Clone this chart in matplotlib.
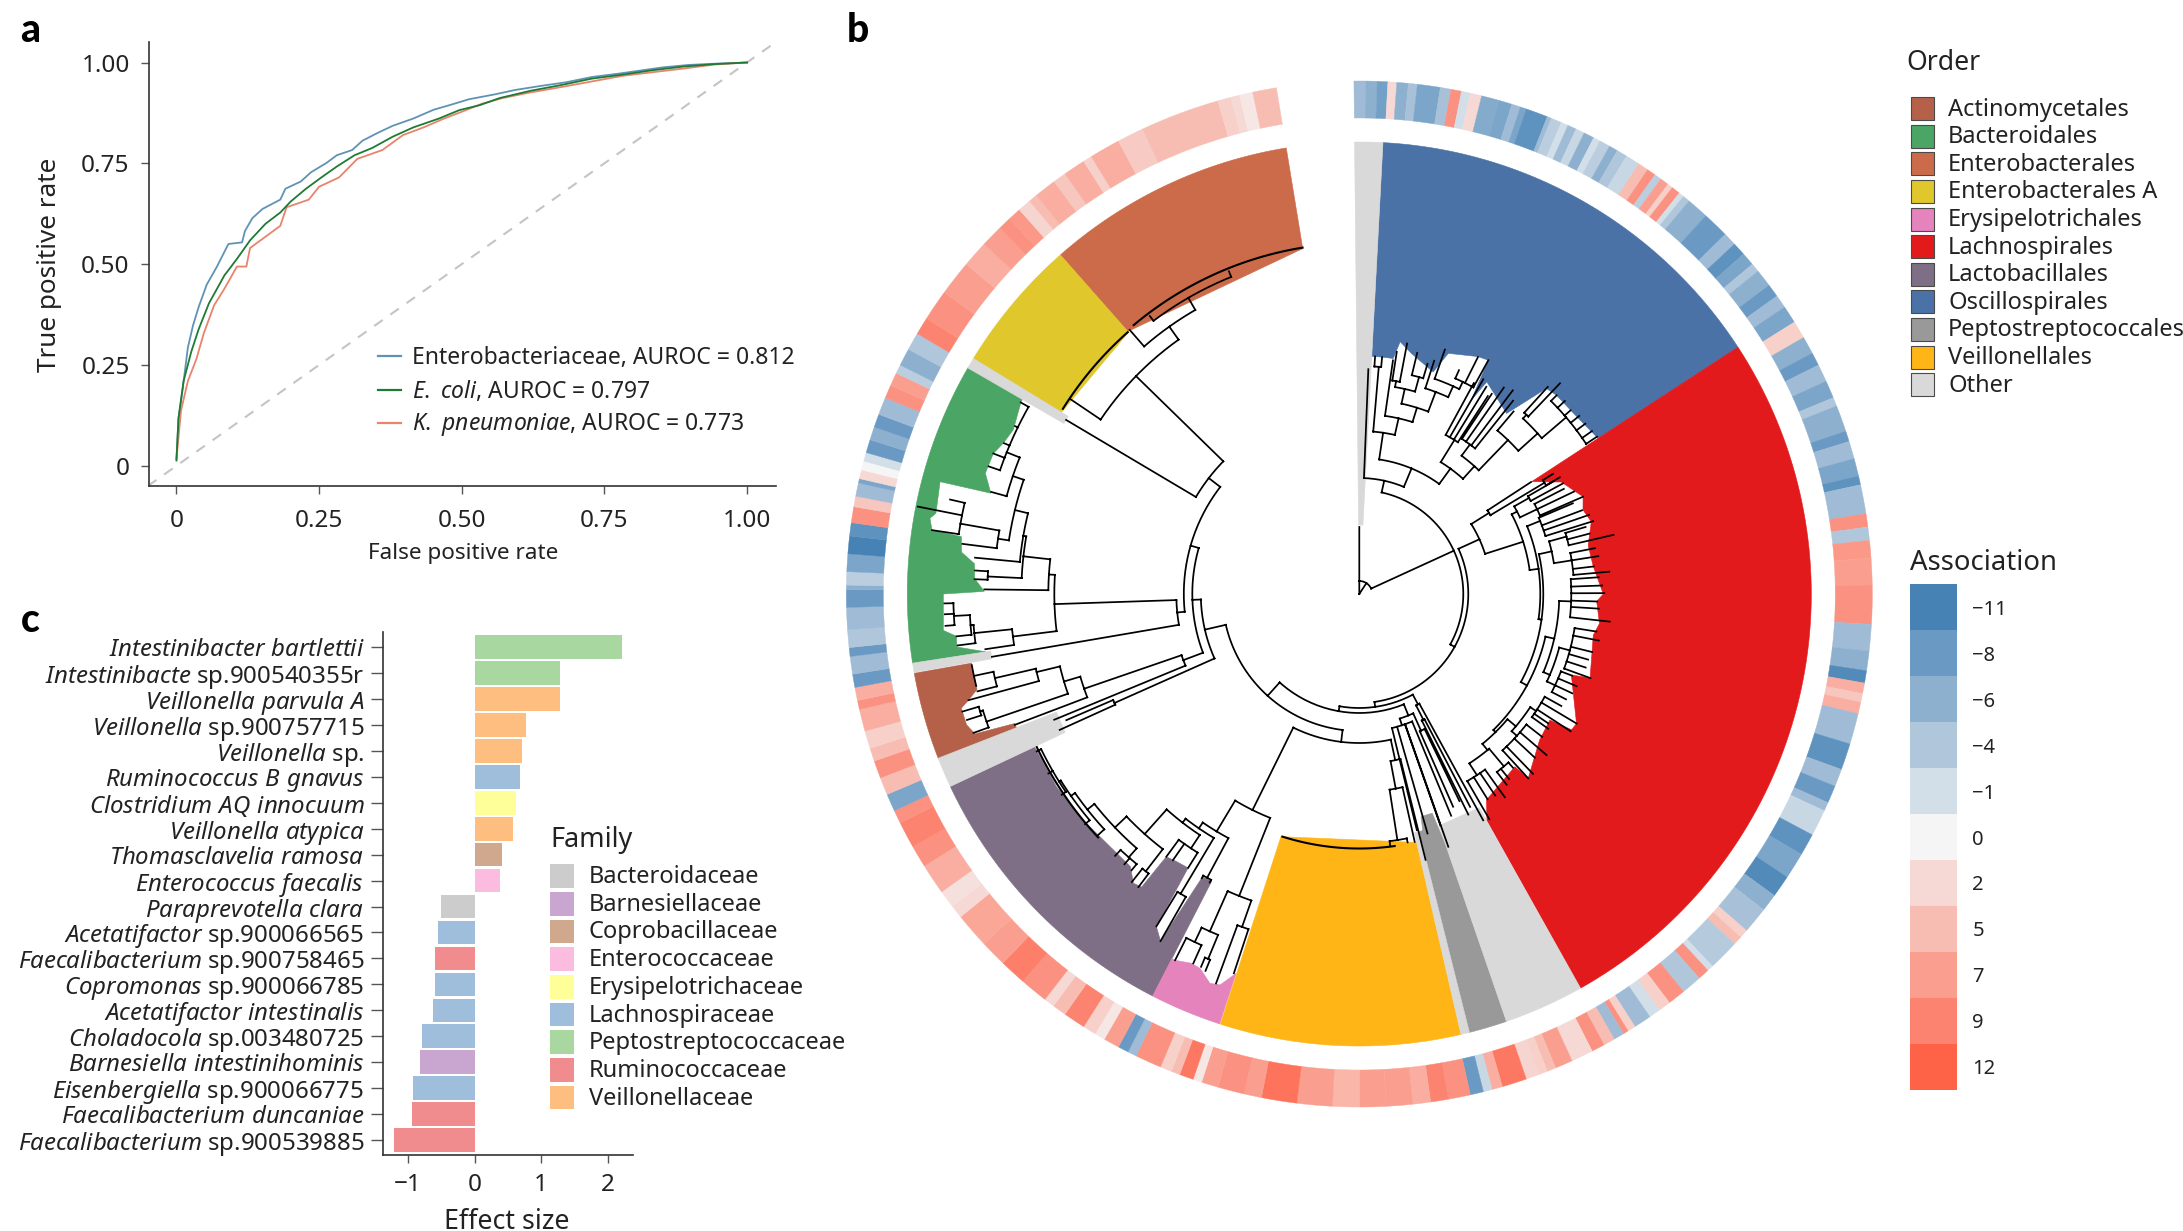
import numpy as np
import matplotlib
matplotlib.use("Agg")
import matplotlib.pyplot as plt
from matplotlib.patches import Rectangle
from matplotlib.colors import to_rgb

plt.rcParams['font.family'] = ['Noto Sans', 'DejaVu Sans']
plt.rcParams['mathtext.fontset'] = 'custom'
plt.rcParams['mathtext.rm'] = 'Noto Sans'
plt.rcParams['mathtext.it'] = 'Noto Sans:italic'
plt.rcParams['mathtext.bf'] = 'Noto Sans:bold'

W, H = 2183, 1231
TXT = '#222222'

# ---------- panel a ----------
entero_fpr = [0,.0036,.011,.02,.029,.039,.053,.071,.091,.115,.12,.133,.151,.182,.191,.218,.236,.263,.281,.308,.326,.352,.379,.415,.451,.478,.513,.558,.594,.639,.683,.728,.773,.818,.853,.898,.943,1]
entero_tpr = [.017,.118,.192,.293,.348,.394,.449,.494,.55,.554,.582,.614,.637,.66,.687,.705,.728,.751,.77,.783,.806,.825,.843,.861,.883,.894,.909,.921,.932,.942,.951,.964,.972,.981,.988,.994,.997,1]
ecoli_fpr = [0,.0036,.0125,.026,.039,.057,.084,.106,.129,.156,.182,.2,.227,.254,.281,.312,.343,.379,.415,.46,.496,.531,.567,.621,.674,.728,.782,.835,.889,.943,1]
ecoli_tpr = [.013,.118,.21,.283,.339,.403,.472,.513,.559,.6,.628,.655,.687,.715,.742,.77,.788,.816,.839,.861,.882,.894,.912,.93,.944,.96,.97,.981,.99,.996,1]
kp_fpr = [0,.008,.02,.035,.048,.066,.084,.106,.1225,.129,.156,.182,.193,.232,.25,.285,.317,.361,.397,.433,.469,.504,.536,.572,.621,.674,.728,.782,.835,.889,.943,1]
kp_tpr = [.017,.137,.21,.265,.329,.398,.439,.494,.494,.54,.568,.595,.641,.66,.692,.715,.761,.783,.82,.839,.861,.88,.898,.912,.926,.939,.953,.967,.976,.985,.995,1]
roc_labels = ['Enterobacteriaceae, AUROC = 0.812', r'$\mathit{E.\ coli}$, AUROC = 0.797', r'$\mathit{K.\ pneumoniae}$, AUROC = 0.773']
roc_colors = ['#5F93B5', '#1E7B34', '#E8836C']
roc_ticks = [0, .25, .5, .75, 1]
roc_ticklabels = ['0', '0.25', '0.50', '0.75', '1.00']

# ---------- panel c ----------
species = [r'$\mathit{Intestinibacter\ bartlettii}$', r'$\mathit{Intestinibacte}$ sp.900540355r',
           r'$\mathit{Veillonella\ parvula\ A}$', r'$\mathit{Veillonella}$ sp.900757715',
           r'$\mathit{Veillonella}$ sp.', r'$\mathit{Ruminococcus\ B\ gnavus}$',
           r'$\mathit{Clostridium\ AQ\ innocuum}$', r'$\mathit{Veillonella\ atypica}$',
           r'$\mathit{Thomasclavelia\ ramosa}$', r'$\mathit{Enterococcus\ faecalis}$',
           r'$\mathit{Paraprevotella\ clara}$', r'$\mathit{Acetatifactor}$ sp.900066565',
           r'$\mathit{Faecalibacterium}$ sp.900758465', r'$\mathit{Copromonas}$ sp.900066785',
           r'$\mathit{Acetatifactor\ intestinalis}$', r'$\mathit{Choladocola}$ sp.003480725',
           r'$\mathit{Barnesiella\ intestinihominis}$', r'$\mathit{Eisenbergiella}$ sp.900066775',
           r'$\mathit{Faecalibacterium\ duncaniae}$', r'$\mathit{Faecalibacterium}$ sp.900539885']
effect = [2.21,1.28,1.276,.775,.71,.69,.625,.585,.42,.387,-.51,-.55,-.59,-.60,-.617,-.79,-.82,-.93,-.946,-1.21]
species_family = ['Peptostreptococcaceae','Peptostreptococcaceae','Veillonellaceae','Veillonellaceae','Veillonellaceae',
                  'Lachnospiraceae','Erysipelotrichaceae','Veillonellaceae','Coprobacillaceae','Enterococcaceae',
                  'Bacteroidaceae','Lachnospiraceae','Ruminococcaceae','Lachnospiraceae','Lachnospiraceae',
                  'Lachnospiraceae','Barnesiellaceae','Lachnospiraceae','Ruminococcaceae','Ruminococcaceae']
families = ['Bacteroidaceae','Barnesiellaceae','Coprobacillaceae','Enterococcaceae','Erysipelotrichaceae',
            'Lachnospiraceae','Peptostreptococcaceae','Ruminococcaceae','Veillonellaceae']
family_colors = ['#CCCCCC','#C8A6D0','#D0A88E','#FBBCDF','#FFFF99','#9EBEDB','#A8D8A0','#F08C8E','#FDBE80']

# ---------- panel b ----------
orders = ['Actinomycetales','Bacteroidales','Enterobacterales','Enterobacterales A','Erysipelotrichales','Lachnospirales',
          'Lactobacillales','Oscillospirales','Peptostreptococcales','Veillonellales','Other']
order_colors = ['#B5614A','#4BA564','#CC6B4A','#E0C72B','#E583BD','#E31A1C','#7F6F86','#4A72A6','#999999','#FFB515','#D9D9D9']

assoc_ticks = [-11,-8,-6,-4,-1,0,2,5,7,9,12]
assoc_labels = ['\u221211','\u22128','\u22126','\u22124','\u22121','0','2','5','7','9','12']
assoc_colors = ['#4682B4','#6A9AC4','#8EB0CF','#B0C6DB','#D2DFE9','#F5F5F5','#F6D9D5','#F8BDB2','#FA9F8F','#FC8370','#FF6347']

ring_edges = [-0.6,0.7,2.0,3.2,4.2,5.5,6.5,9.1,10.3,11.5,12.5,13.8,15.8,17.3,18.3,19,21.5,22,23.2,24,25,26,27.2,28,29.2,30.2,31.4,33,34.2,35.2,36,37,37.6,38.6,39.2,40,
 42.5,45.5,47,48.5,50,51,53,54.5,56,58,60,62,63.5,65.5,67.5,68.5,71.5,72.7,74.7,76.7,77.7,81,82.5,84,86,89,93.4,96.4,98.6,100,101.2,102.2,103.5,107,110,112,114,115,118,120.5,123.5,126,128,131,132,133,136.5,137.2,138.5,140.8,142.8,144.2,145.5,147.5,148.4,149,150.2,151.5,153,155.5,157.5,158.5,159.5,161,163.8,165,166,167.5,170,172,174,177,180,183,187,191,193,196,197.9,198.9,200.5,201.5,202.8,205.8,206.8,208,209.8,211,212.5,215,216.6,217.8,221,224,227,231,232.5,234.5,238,240.5,243.5,245,247,249,251,252.5,254.5,257,258,259.5,261,263,264,266,268.5,270.5,271,272.5,274.5,276.5,278,279.8,281,282.5,283,284,285,286,287.5,289,290.5,292.5,294,295.5,296.5,298.5,300.5,302.5,306,310,313,315.5,317,318.5,320,321,323.5,325,327.5,328.5,332,335,344,345.5,346.5,348,350.7]
ring_values = [-5,-6,-7.5,2,-6,-4.5,-7,-4.5,8,-1,2,-6.5,-7,-5,-7,-9,-5,-3,-1,-5,-2,-6,-1,-3,-6,-4,-2,5,8,-3,7,3,8,-1,-4,
 -6,-8,-5,-9,-7,-4,-6,-8,-5,-7,3,-6,-8,-5,-7,-4,-6,-8,-5,-7,-9,-5,8,-4,7.5,7,8,-5,-6,-10,6,4,6,-5,-9,-5,-8,-5,-2,-9,-7,-10,-6,-4.5,3,5,-3.5,-1,8,-4,8,3,-1,-5,3,8,-5,5,8,2,7,5,3,2.5,10,6,-2,-8,8,9,6,7,7,5.5,7,10.5,7,8,7,1,10,5,3,8,-5,-8,7,1,3,9,5,2,8,9.5,7,6.5,2,1.5,6,8,9,8,-7,5,8,5,3,6,8,6,-8,-5,-8,-4,-5,-8,-6,-3,-7,-11,-9,8,4,-5,-7,2,0,-1,-8,-6,-8,-5,8,7,-3,-6,-4,9,8,7,6,7,8,7.5,2.5,5,6,4,6,3,6,3.5,5,3,2,1,5]

# wedge outlines: clockwise angle (deg) and inner radius pairs read from the circle
osc_inner = [(3,238),(5,238),(8.2,238),(9.2,255.6),(12.3,246),(18.4,234),(20.3,256.6),(26.6,265.5),(28.9,267),(30,224),(31,247.6),(39.2,233),(41,257),(42.3,278),(44.8,280),(50.8,280.6),(56.9,285)]
lach_inner = [(56.9,205.7),(61,231),(66.5,244),(69.4,239),(72.7,243),(78,234),(83.3,235.6),(90,244),(91.8,237.5),(97,242),(100,237.6),(110,245.6),(110.9,227),(120.8,252.9),(122.6,252),(123.5,228.5),(129,232),(137.5,250),(138,232.5),(148.3,242),(150.6,260)]
bact_inner = [(261.2,378),(262.5,406),(264,405),(265,417.6),(270,416),(270.4,375),(272.3,385),(274.5,386),(276,400),(278.2,402),(278.5,432),(280,436),(280.8,431),(285,434),(285.3,382),(287.9,393),(291,392),(293,386.6),(295.4,383),(299.6,389),(300.1,389)]
acti_inner = [(248.6,368),(249.4,368),(250,409),(251.6,414),(254,414),(254.8,405),(256,394),(259.9,394)]
lact_inner = [(207.2,323),(209,323.6),(209.8,400),(211.4,389.5),(212,323),(214.3,324),(216.3,326),(216.6,365),(218,367),(220,356),(226.1,355),(230.7,357),(237.5,359),(244.8,359)]
erys_inner = [(198,399),(199.6,415),(201,417),(203,407),(204.4,405.6),(206.7,410),(207.2,410)]
other_wedges = [(-0.6,3,69),(300,301.4,341),(260,261.2,373),(244.8,248.7,325),(150.7,161,245),(165.9,167,245)]
simple_wedges = [('Enterobacterales',318.6,350.7,350),('Enterobacterales A',301.3,318.6,349),('Veillonellales',167,197.9,255)]
pept_inner = [(161,266),(161.6,231),(164.5,231),(165,245),(166,245)]

# phylogeny: [angle, radius, children...]
osc_left = [8.4,163,[4.9,228,[3.8,238],[5.5,238]],[12.6,180,[8.2,236],[17.2,195,[12.5,210,[9.8,216,[8.8,245],[10.8,255]],[15.4,225,[13.5,248],[16.5,240]]],[20.7,216,[17.8,245],[24.3,228,[19.3,259],[26,236,[24,245],[26.6,265],[28.9,267]]]]]]]
osc_right = [36,155,[31.7,181,[28.5,240],[30,248],[31.5,243],[33,236]],[42,172,[36.5,186,[33.5,240],[35,252],[37,255],[38.5,247]],[44,214,[40.2,239],[48,240,[43,245,[42.3,280],[43.6,291]],[49.5,272,[44.8,280],[46.8,282],[49,280],[51,283],[53,283],[55,284],[56.5,285]]]]]]
tree_osc = [12.4,116,[2.3,225],[22.6,136,osc_left,osc_right]]
red_a = [62.4,178,[60.5,195,[59.9,225],[61.5,232]],[64.5,197,[62.8,230],[64.5,238],[66.5,244]]]
red_b = [68,195,[67,232],[69.4,238],[71,243],[72.7,245]]
red_mid = [77.5,197,[74.5,215,[73.5,236],[75.3,238],[76.9,261]],[81,215,[79,240],[81,242],[83.3,236],[84.9,251]]]
lobe1 = [102.9,200,[92,212,[86,240],[88,243],[89.8,245],[91.8,238],[93.5,240],[96.3,252]],[113,207,[105,218,[99,240],[101,244],[104,240],[106,238],[108,238],[110,246]],[115,216,[111,228],[113,236],[115,235],[117,232]]]]
lobe2 = [135.4,194,[130.2,205,[123.5,212,[119,231],[120.8,253],[123,252],[124.4,229],[125.5,232]],[132,212,[128,232],[130.7,247],[133,240],[136,250],[137.5,250]]],[140.6,202,[140,225,[138.5,232],[141,238],[142.3,241]],[147,216,[144.4,250],[146,243],[148,242],[150,260]]]]
tree_red = [65.5,132,[58,153,[56.9,205],[59,216,[58.2,228],[59.8,232]]],[72.3,172,red_a,[82,181,red_b,[98,184,red_mid,[118.6,191,lobe1,lobe2]]]]]
tree_other = [152,125,[151.3,258],[153,141,[152.5,240],[153.7,246]]]
tree_pept = [158,131,[155.7,150,[154.2,230],[156.2,232.5]],[162,138,[157.5,240],[160.6,268],[160.7,245],[164.1,249],[166.3,243]]]
tree_veil = [167.8,170,[166,274],[169.4,198,[167.4,254],[171.2,249,[169,253],[173,253]]]]
lact_top = [226.3,338,[221.2,350,[219.5,358],[221,358],[223,358]],[231.6,347,[227.3,356],[235,352,[230,358],[238,354,[236,359],[240,359],[244,359]]]]]
lact_tree = [211,277,[208.2,322,[207.4,325],[209,325]],[214.4,284,[210.8,349,[211.4,389.5],[209.8,400]],[217.7,289,[213.5,305,[212,323],[215,325],[216.3,326]],[221.8,322,[217.6,350,[217,367],[218.3,367]],lact_top]]]]
erys_tree = [201.7,325,[203.9,369,[205.3,385,[206.7,410],[204.2,405]],[202.5,395,[202.2,407],[203,405]]],[199.4,353,[200.2,415],[198.3,399.5]]]
tree_low = [206.3,241,erys_tree,lact_tree]
green_low = [263,349,[261.6,378],[264.2,387,[262.7,405],[265.4,390,[264,405],[266.9,406,[265.6,415],[267.2,415],[268.7,415]]]]]
green_mid = [276.4,338,[272.7,372,[272.2,385],[273.5,385]],[279.8,341,[275.4,386],[283.7,354.5,[278.7,365.5,[277.2,400],[280,405,[278.5,432],[281.2,450],[283,420]]],[288.8,366,[285.5,382],[291.9,380,[289,392],[291,392],[293,386],[296,383],[299.5,389]]]]]]
tree_green = [268.1,305,green_low,[273.6,311,[270.7,375],green_mid]]
acti_deep = [251.1,394,[252.8,397,[253.5,414],[252.2,412]],[250.2,410]]
acti_up = [256.4,332,[254.8,405],[257,374,[255.7,394],[258,394,[256.5,394],[258,394],[259.6,394]]]]
tree_acti = [251,291,[249.2,368.5],[253.5,308,acti_deep,acti_up]]
tree_entero = [314.3,312,[304,349],[324.6,328,[319,350],[330,342,[323,348],[338,348]]]]
tree_root = [0,0,[0,67],[33,13,[0,13],
   [65.4,104,tree_osc,
     [119,109,tree_red,
       [172,114,tree_other,
         [190,119,tree_pept,
           [222,137,
             [187,149,tree_veil,tree_low],
             [257,158.5,
               [246,268,[246.7,319],[245.6,329]],
               [268,167,
                 [249.4,188,tree_acti,[247.6,330]],
                 [286,175.5,
                   [264.2,183,[260.3,372.7],tree_green],
                   [307.6,190,[300.7,341],tree_entero]]]]]]]]]]]
comb_radius = [349.5,351,254.5,357]
comb_start = [302,320,172,227]
comb_stop = [318.5,350.7,197.6,244.6]


def px_axes(left, top, right, bottom, **kw):
    return fig.add_axes([left / W, 1 - bottom / H, (right - left) / W, (bottom - top) / H], **kw)


def assoc_color(v):
    rgb = np.array([to_rgb(c) for c in assoc_colors])
    return tuple(np.interp(v, assoc_ticks, rgb[:, i]) for i in range(3))


fig = plt.figure(figsize=(W / 100, H / 100), dpi=100, facecolor='white')
ov = px_axes(0, 0, W, H)
ov.set_xlim(0, W); ov.set_ylim(H, 0); ov.axis('off'); ov.set_zorder(5)


def style(ax):
    for s in ['top', 'right']:
        ax.spines[s].set_visible(False)
    for s in ['left', 'bottom']:
        ax.spines[s].set_color('#333333'); ax.spines[s].set_linewidth(1.2)
    ax.tick_params(colors='#555555', labelcolor=TXT, width=1.0, length=5.5, pad=8, labelsize=17.5)


# panel a
a = px_axes(148.5, 42.5, 775.5, 485.8)
a.set_xlim(-0.049, 1.05); a.set_ylim(-0.0496, 1.0496)
a.plot([-0.05, 1.06], [-0.05, 1.06], color='#C4C4C4', lw=1.5, dashes=(5, 4.5))
for x, y, c, lab in zip([entero_fpr, kp_fpr, ecoli_fpr], [entero_tpr, kp_tpr, ecoli_tpr],
                        [roc_colors[0], roc_colors[2], roc_colors[1]],
                        [roc_labels[0], roc_labels[2], roc_labels[1]]):
    a.plot(x, y, color=c, lw=1.3, label=lab)
style(a)
a.set_xticks(roc_ticks, roc_ticklabels); a.set_yticks(roc_ticks, roc_ticklabels)
a.tick_params(axis='x', pad=11)
a.set_xlabel('False positive rate', fontsize=16.2, color=TXT, va='center')
a.set_ylabel('True positive rate', fontsize=18.8, color=TXT, va='center')
a.xaxis.set_label_coords(462.8, 553, transform=ov.transData)
a.yaxis.set_label_coords(49.5, 264.5, transform=ov.transData)
for lab, col, yy in zip(roc_labels, roc_colors, [358, 391.5, 425]):
    ov.plot([377.5, 400.5], [yy - 2, yy - 2], color=col, lw=1.6)
    ov.text(411.7, yy, lab, fontsize=16.5, color=TXT, va='center', ha='left')

# panel c
c = px_axes(383, 632, 632.5, 1155.4)
fam_col = dict(zip(families, family_colors))
c.barh(range(len(species)), effect, height=0.91, color=[fam_col[f] for f in species_family])
c.set_xlim(-1.374, 2.372); c.set_ylim(19.59, -0.58)
style(c)
c.set_yticks(range(len(species)), species)
c.tick_params(axis='y', length=8.5, pad=5, labelsize=17.3)
c.set_xticks([-1, 0, 1, 2], ['\u22121', '0', '1', '2'])
c.tick_params(axis='x', labelsize=17.5, pad=7)
c.set_xlabel('Effect size', fontsize=19.3, color=TXT, va='center')
c.xaxis.set_label_coords(507, 1222, transform=ov.transData)
ov.text(550, 840, 'Family', fontsize=19.5, color=TXT, va='center', ha='left')
for i, (f, col) in enumerate(zip(families, family_colors)):
    yy = 876 + 27.7 * i
    ov.add_patch(Rectangle((550, yy - 11.8), 24, 23.6, facecolor=col, edgecolor='none'))
    ov.text(588.6, yy + 1, f, fontsize=17, color=TXT, va='center', ha='left')

# panel b
cx, cy, rmax = 1359.3, 594, 520
b = px_axes(cx - rmax, cy - rmax, cx + rmax, cy + rmax, projection='polar')
b.set_theta_zero_location('N'); b.set_theta_direction(-1)
b.set_ylim(0, rmax); b.set_axis_off(); b.patch.set_alpha(0)
ord_col = dict(zip(orders, order_colors))
R_OUT = 452


def wedge(t0, t1, inner, col):
    th = np.linspace(t0, t1, 80)
    it = [p[0] for p in inner]; ir = [p[1] for p in inner]
    xs = list(th) + it[::-1]
    ys = [R_OUT] * len(th) + ir[::-1]
    b.fill(np.radians(xs), ys, color=col, lw=0.4, zorder=1)


wedge(3, 56.9, osc_inner, ord_col['Oscillospirales'])
wedge(56.9, 150.7, lach_inner, ord_col['Lachnospirales'])
wedge(261.2, 300.1, bact_inner, ord_col['Bacteroidales'])
wedge(248.6, 259.9, acti_inner, ord_col['Actinomycetales'])
wedge(207.2, 244.8, lact_inner, ord_col['Lactobacillales'])
wedge(198, 207.2, erys_inner, ord_col['Erysipelotrichales'])
wedge(161, 166, pept_inner, ord_col['Peptostreptococcales'])
for name, t0, t1, r0 in simple_wedges:
    wedge(t0, t1, [(t0, r0), (t1, r0)], ord_col[name])
for t0, t1, r0 in other_wedges:
    wedge(t0, t1, [(t0, r0), (t1, r0)], ord_col['Other'])

lefts = np.array(ring_edges[:-1]); spans = np.diff(ring_edges)
rc = [assoc_color(v) for v in ring_values]
b.bar(np.radians(lefts), 37, width=np.radians(spans), bottom=476, align='edge', color=rc, edgecolor=rc, linewidth=0.3, zorder=1)

seg_t, seg_r = [], []


def walk(node, r_parent):
    theta, r = node[0], node[1]
    kids = node[2:]
    seg_t.extend([theta, theta, np.nan]); seg_r.extend([r_parent, r, np.nan])
    if kids:
        angs = [k[0] for k in kids]
        th = np.linspace(min(angs + [theta]), max(angs + [theta]), 40)
        seg_t.extend(list(th) + [np.nan]); seg_r.extend([r] * len(th) + [np.nan])
        for k in kids:
            walk(k, r)


walk(tree_root, 0)
b.plot(np.radians(seg_t), seg_r, color='black', lw=1.25, zorder=3, solid_capstyle='projecting')
for rr, t0, t1 in zip(comb_radius, comb_start, comb_stop):
    th = np.linspace(t0, t1, 60)
    b.plot(np.radians(th), [rr] * len(th), color='black', lw=1.5, zorder=3)

# order legend
ov.text(1906, 63, 'Order', fontsize=19.2, color=TXT, va='center', ha='left')
for i, (o, col) in enumerate(zip(orders, order_colors)):
    yy = 108.6 + 27.6 * i
    ov.add_patch(Rectangle((1910.5, yy - 11.5), 23, 23, facecolor=col, edgecolor='#4A4A4A', lw=0.8))
    ov.text(1948, yy + 1, o, fontsize=17, color=TXT, va='center', ha='left')

# association legend
ov.text(1910, 563, 'Association', fontsize=19.8, color=TXT, va='center', ha='left')
cb = px_axes(1910, 584, 1957, 1090)
cb.pcolormesh([0, 1], np.arange(len(assoc_ticks) + 1),
              np.arange(len(assoc_ticks)).reshape(-1, 1),
              cmap=matplotlib.colors.ListedColormap(assoc_colors))
cb.set_ylim(len(assoc_ticks), 0); cb.set_xticks([])
cb.yaxis.tick_right()
cb.set_yticks(np.arange(len(assoc_ticks)) + 0.5, assoc_labels)
cb.tick_params(axis='y', length=0, pad=11, labelsize=14.5, labelcolor=TXT)
for s in cb.spines.values():
    s.set_visible(False)

# panel letters
for letter, x, y in zip('abc', [20, 847, 21], [42, 42, 632]):
    ov.text(x, y, letter, fontsize=28, family=['Lato', 'DejaVu Sans'], weight='black', color='black', va='baseline', ha='left')

fig.savefig('out.png', dpi=100, facecolor='white')
